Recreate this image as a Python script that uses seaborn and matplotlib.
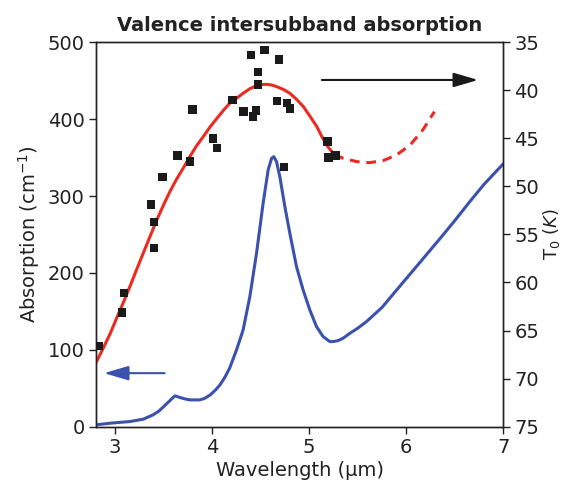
import matplotlib
matplotlib.use("Agg")
import matplotlib.pyplot as plt
import seaborn as sns
import pandas as pd

# Measured T0 values (K) versus wavelength (um)
meas_wl = [2.83, 3.07, 3.09, 3.37, 3.40, 3.40, 3.49, 3.64, 3.77, 3.80,
           4.01, 4.05, 4.21, 4.32, 4.40, 4.42, 4.45, 4.47, 4.47, 4.54,
           4.67, 4.69, 4.74, 4.77, 4.80, 5.19, 5.20, 5.27]
meas_t0 = [66.6, 63.1, 61.1, 51.9, 53.7, 56.4, 49.0, 46.8, 47.4, 42.0,
           45.0, 46.0, 41.0, 42.2, 36.3, 42.7, 42.1, 38.1, 39.4, 35.8,
           41.1, 36.8, 48.0, 41.3, 41.9, 45.3, 47.0, 46.8]

# Model T0 curve (solid) and its extrapolation (dashed)
fit_wl = [2.80, 2.877, 2.95, 3.015, 3.08, 3.152, 3.22, 3.289, 3.36, 3.427,
          3.50, 3.564, 3.63, 3.701, 3.77, 3.838, 3.91, 3.975, 4.05, 4.113,
          4.18, 4.251, 4.32, 4.388, 4.46, 4.509, 4.56, 4.612, 4.66, 4.731,
          4.80, 4.869, 4.94, 5.006, 5.08, 5.127, 5.18, 5.219, 5.26]
fit_t0 = [68.4, 66.84, 65.3, 63.72, 62.2, 60.43, 58.7, 56.96, 55.2, 53.56,
          51.9, 50.55, 49.3, 48.11, 46.9, 45.79, 44.8, 43.85, 42.9, 42.12,
          41.35, 40.83, 40.3, 39.83, 39.5, 39.41, 39.37, 39.44, 39.6, 39.89,
          40.3, 40.93, 41.7, 42.67, 43.8, 44.75, 45.7, 46.21, 46.7]
ext_wl = [5.26, 5.35, 5.49, 5.62, 5.76, 5.90, 6.04, 6.17, 6.29]
ext_t0 = [46.7, 47.07, 47.42, 47.53, 47.32, 46.73, 45.69, 44.13, 42.22]

# Absorption spectrum (cm^-1)
abs_wl = [2.80, 2.95, 3.15, 3.29, 3.39, 3.45, 3.50, 3.55, 3.60, 3.62,
          3.67, 3.72, 3.77, 3.87, 3.92, 3.98, 4.03, 4.08, 4.13, 4.18,
          4.251, 4.319, 4.388, 4.457, 4.525, 4.577, 4.612, 4.635, 4.663, 4.697,
          4.749, 4.80, 4.869, 4.937, 5.006, 5.075, 5.143, 5.212, 5.25, 5.30,
          5.35, 5.42, 5.50, 5.59, 5.75, 5.93, 6.15, 6.35, 6.50, 6.65,
          6.80, 7.00]
abs_val = [2.2, 4.4, 6.5, 9.6, 15.2, 20.0, 26.0, 32.0, 38.2, 39.9,
           37.7, 36.0, 34.7, 34.7, 36.5, 41.2, 47.0, 54.2, 64.0, 76.0,
           99.8, 125.8, 169.0, 225.5, 290.6, 334.0, 349.0, 351.2, 344.7, 325.2,
           286.2, 251.6, 208.1, 177.8, 151.8, 130.1, 117.1, 110.6, 110.6, 112.0,
           115.0, 121.5, 128.0, 136.6, 155.0, 182.1, 215.0, 245.0, 268.0, 292.0,
           315.0, 342.0]

x_ticks = [3, 4, 5, 6, 7]
abs_ticks = [0, 100, 200, 300, 400, 500]
t0_ticks = [35, 40, 45, 50, 55, 60, 65, 70, 75]

RED = "#ec2a22"
BLUE = "#3b51ad"
INK = "#222222"
FS = 14

sns.set_style("ticks")
plt.rcParams["font.family"] = ["DejaVu Sans"]
plt.rcParams["axes.edgecolor"] = INK
plt.rcParams["xtick.color"] = INK
plt.rcParams["ytick.color"] = INK
plt.rcParams["text.color"] = INK
plt.rcParams["axes.labelcolor"] = INK

fig = plt.figure(figsize=(5.63, 4.92), dpi=100)
ax = fig.add_axes([0.170, 0.133, 0.724, 0.781])

abs_df = pd.DataFrame({"wl": abs_wl, "a": abs_val})
sns.lineplot(data=abs_df, x="wl", y="a", ax=ax, color=BLUE, lw=2.2,
             sort=False, estimator=None)

ax.set_xlim(2.8, 7)
ax.set_ylim(0, 500)
ax.set_xticks(x_ticks)
ax.set_yticks(abs_ticks)
ax.set_xlabel("Wavelength (μm)", fontsize=FS, labelpad=3)
ax.set_ylabel("Absorption (cm$^{-1}$)", fontsize=FS, labelpad=4)
ax.tick_params(labelsize=FS, length=5, width=1, direction="out", pad=3)
for s in ax.spines.values():
    s.set_linewidth(1.0)

ax2 = ax.twinx()
fit_df = pd.DataFrame({"wl": fit_wl, "t": fit_t0})
ext_df = pd.DataFrame({"wl": ext_wl, "t": ext_t0})
meas_df = pd.DataFrame({"wl": meas_wl, "t": meas_t0})
sns.lineplot(data=fit_df, x="wl", y="t", ax=ax2, color=RED, lw=2.2,
             sort=False, estimator=None)
sns.lineplot(data=ext_df, x="wl", y="t", ax=ax2, color=RED, lw=2.2,
             sort=False, estimator=None, linestyle=(0, (3.2, 2.2)))
sns.scatterplot(data=meas_df, x="wl", y="t", ax=ax2, marker="s", s=38,
                color="#1a1a1a", edgecolor="none", zorder=5)
ax2.set_ylim(75, 35)
ax2.set_yticks(t0_ticks)
ax2.set_xlim(2.8, 7)
ax2.set_ylabel("T$_0$ ($K$)", fontsize=FS - 1, labelpad=1)
ax2.set_xlabel("")
ax2.tick_params(labelsize=FS, length=5, width=1, direction="out", pad=3)
for s in ax2.spines.values():
    s.set_linewidth(1.0)

# Arrows pointing to the axis each curve belongs to
ax.annotate("", xy=(6.74, 451), xytext=(5.13, 451),
            arrowprops=dict(arrowstyle="-|>,head_length=0.75,head_width=0.22",
                            mutation_scale=20, color="#1a1a1a", lw=1.5,
                            shrinkA=0, shrinkB=0))
ax.annotate("", xy=(2.885, 69.5), xytext=(3.51, 69.5),
            arrowprops=dict(arrowstyle="-|>,head_length=0.75,head_width=0.22",
                            mutation_scale=20, color=BLUE, lw=1.5,
                            shrinkA=0, shrinkB=0))

ax.set_title("Valence intersubband absorption", fontsize=FS,
             fontweight="bold", pad=8)

fig.savefig("out.png", dpi=100)
